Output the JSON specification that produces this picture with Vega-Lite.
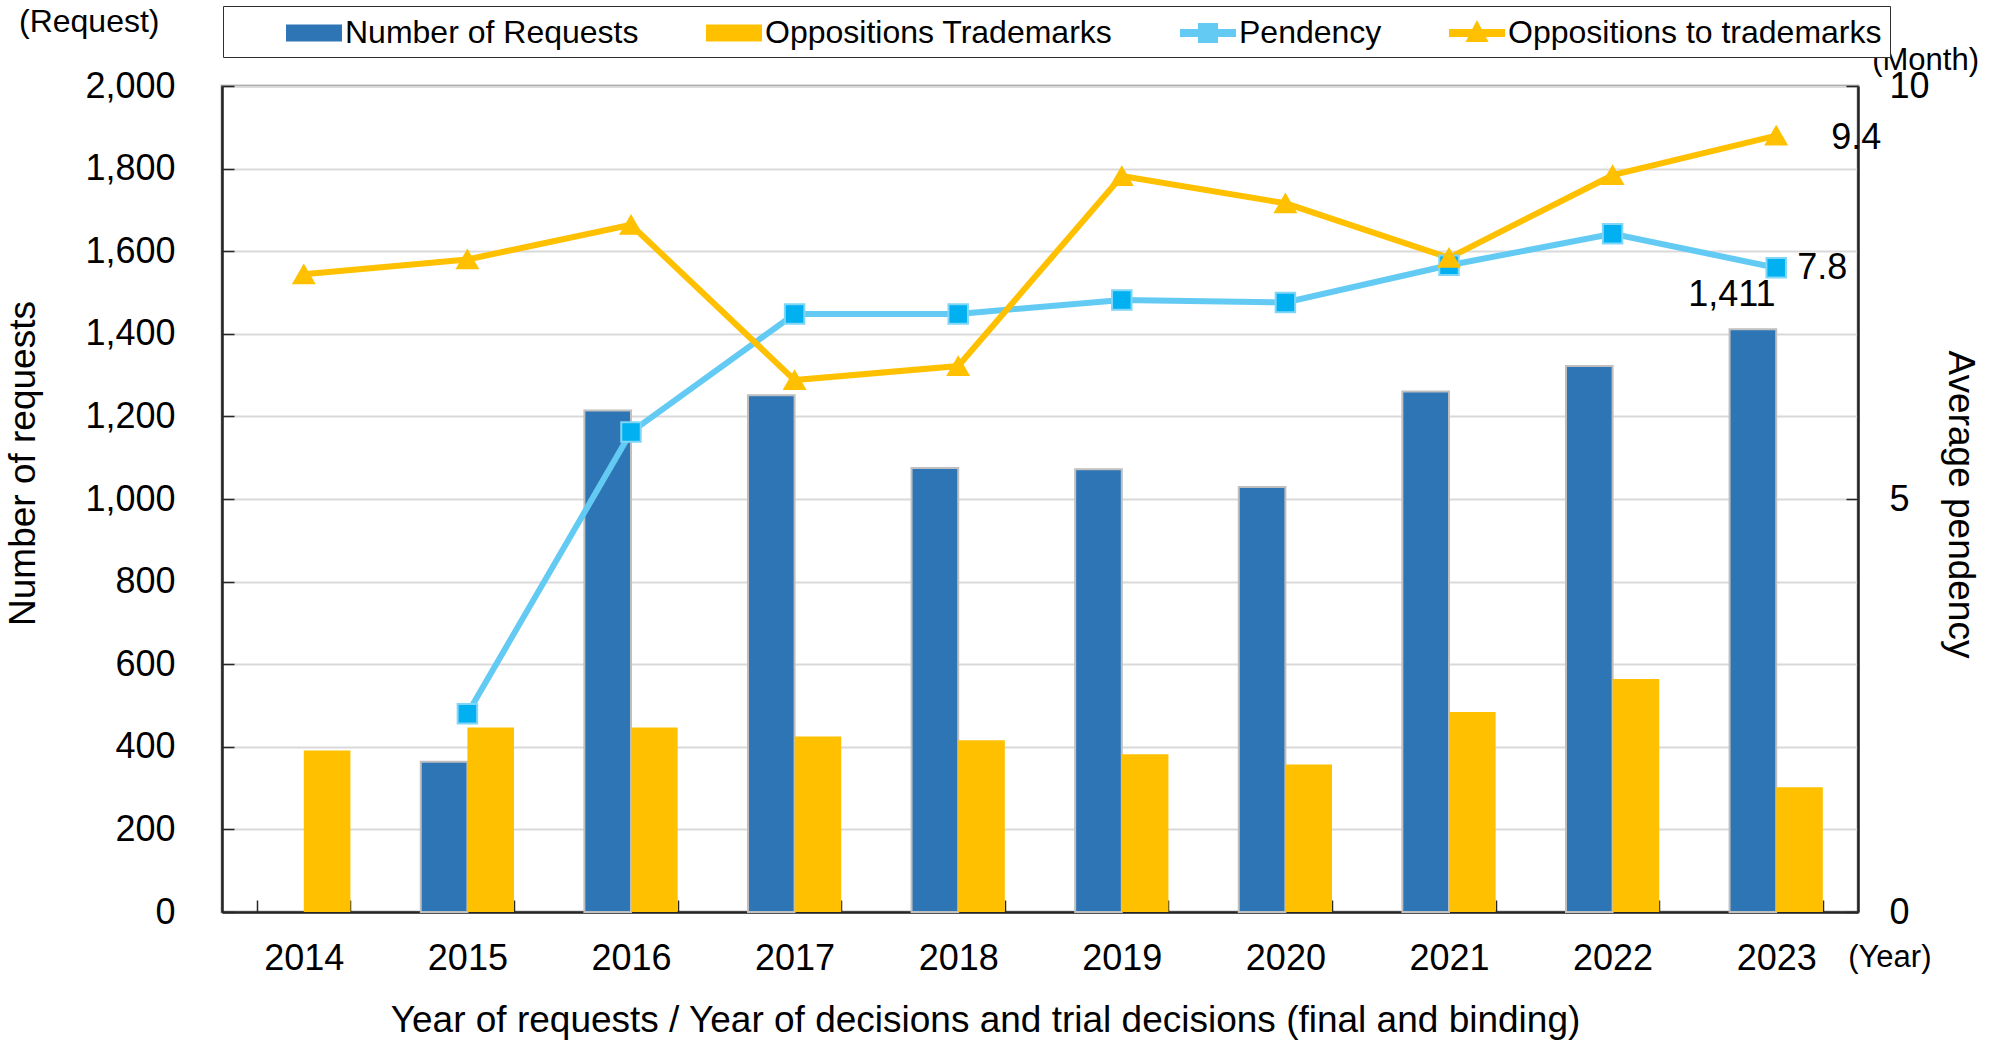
{
  "$schema": "https://vega.github.io/schema/vega-lite/v6.json",
  "autosize": {"type": "none"},
  "padding": {"left": 222, "top": 86, "right": 137, "bottom": 129},
  "width": 1636,
  "height": 826,
  "background": "white",
  "title": {"text": "(Request)", "anchor": "start", "frame": "group", "dx": -203, "offset": 50, "dy": 98, "baseline": "middle", "fontSize": 32, "font": "Liberation Sans", "fontWeight": "normal", "color": "black"},
  "config": {
    "font": "Liberation Sans",
    "view": {"stroke": "#7F7F7F", "strokeWidth": 2.5},
    "axis": {"labelFont": "Liberation Sans", "titleFont": "Liberation Sans", "labelColor": "black", "titleColor": "black", "titleFontWeight": "normal", "domainColor": "#262626", "domainWidth": 2.5, "tickColor": "#262626", "tickWidth": 1.5},
    "text": {"font": "Liberation Sans", "color": "black"}
  },
  "data": {
    "values": [
      {"year": "2015", "series": "Number of Requests", "value": 364},
      {"year": "2016", "series": "Number of Requests", "value": 1214},
      {"year": "2017", "series": "Number of Requests", "value": 1251},
      {"year": "2018", "series": "Number of Requests", "value": 1075},
      {"year": "2019", "series": "Number of Requests", "value": 1072},
      {"year": "2020", "series": "Number of Requests", "value": 1029},
      {"year": "2021", "series": "Number of Requests", "value": 1260},
      {"year": "2022", "series": "Number of Requests", "value": 1322},
      {"year": "2023", "series": "Number of Requests", "value": 1411},
      {"year": "2014", "series": "Oppositions Trademarks", "value": 391},
      {"year": "2015", "series": "Oppositions Trademarks", "value": 447},
      {"year": "2016", "series": "Oppositions Trademarks", "value": 447},
      {"year": "2017", "series": "Oppositions Trademarks", "value": 425},
      {"year": "2018", "series": "Oppositions Trademarks", "value": 416},
      {"year": "2019", "series": "Oppositions Trademarks", "value": 382},
      {"year": "2020", "series": "Oppositions Trademarks", "value": 357},
      {"year": "2021", "series": "Oppositions Trademarks", "value": 484},
      {"year": "2022", "series": "Oppositions Trademarks", "value": 564},
      {"year": "2023", "series": "Oppositions Trademarks", "value": 302},
      {"year": "2015", "series": "Pendency", "value": 2.4},
      {"year": "2016", "series": "Pendency", "value": 5.81},
      {"year": "2017", "series": "Pendency", "value": 7.24},
      {"year": "2018", "series": "Pendency", "value": 7.24},
      {"year": "2019", "series": "Pendency", "value": 7.41},
      {"year": "2020", "series": "Pendency", "value": 7.38},
      {"year": "2021", "series": "Pendency", "value": 7.83},
      {"year": "2022", "series": "Pendency", "value": 8.21},
      {"year": "2023", "series": "Pendency", "value": 7.8},
      {"year": "2014", "series": "Oppositions to trademarks", "value": 7.72},
      {"year": "2015", "series": "Oppositions to trademarks", "value": 7.9},
      {"year": "2016", "series": "Oppositions to trademarks", "value": 8.32},
      {"year": "2017", "series": "Oppositions to trademarks", "value": 6.44},
      {"year": "2018", "series": "Oppositions to trademarks", "value": 6.61},
      {"year": "2019", "series": "Oppositions to trademarks", "value": 8.91},
      {"year": "2020", "series": "Oppositions to trademarks", "value": 8.58},
      {"year": "2021", "series": "Oppositions to trademarks", "value": 7.92},
      {"year": "2022", "series": "Oppositions to trademarks", "value": 8.92},
      {"year": "2023", "series": "Oppositions to trademarks", "value": 9.4}
    ]
  },
  "resolve": {"scale": {"y": "independent"}},
  "layer": [
    {
      "transform": [{"filter": {"field": "series", "oneOf": ["Number of Requests", "Oppositions Trademarks"]}}],
      "encoding": {
        "x": {
          "field": "year", "type": "nominal",
          "scale": {"paddingInner": 0.43, "paddingOuter": 0.215},
          "axis": {
            "labelAngle": 0, "labelFontSize": 36, "labelPadding": 41, "tickBand": "extent", "tickSize": -12,
            "title": "Year of requests / Year of decisions and trial decisions (final and binding)",
            "titleFontSize": 37, "titleX": 763, "titleY": 108, "titleAlign": "center", "titleBaseline": "middle"
          }
        },
        "y": {
          "field": "value", "type": "quantitative",
          "scale": {"domain": [0, 2000]},
          "axis": {
            "values": [0, 200, 400, 600, 800, 1000, 1200, 1400, 1600, 1800, 2000], "format": ",d",
            "labelFontSize": 36, "labelPadding": 59, "tickSize": -12,
            "grid": true, "gridColor": "#D9D9D9", "gridWidth": 2,
            "title": "Number of requests", "titleFontSize": 37, "titlePadding": 42, "titleY": 377, "titleAlign": "center"
          }
        }
      },
      "layer": [
        {
          "mark": {"type": "bar", "strokeWidth": 2},
          "encoding": {
            "xOffset": {"field": "series", "scale": {"domain": ["Number of Requests", "Oppositions Trademarks"]}},
            "color": {
              "field": "series", "type": "nominal",
              "scale": {"domain": ["Number of Requests", "Oppositions Trademarks", "Pendency", "Oppositions to trademarks"], "range": ["#2E75B6", "#FFC000", "#63CBF3", "#FFC000"]},
              "legend": {
                "orient": "none", "legendX": 1, "legendY": -80, "direction": "horizontal", "title": null,
                "labelFont": "Liberation Sans", "labelFontSize": 32, "labelColor": "black", "labelLimit": 0,
                "symbolSize": 1296, "labelOffset": 12, "symbolOffset": 64, "columnPadding": 12, "padding": 8,
                "strokeColor": "#303030", "fillColor": "white",
                "encode": {
                  "symbols": {"update": {
                    "shape": {"signal": "datum.value === 'Pendency' ? 'M-1.5,-0.17H1.5V0.17H-1.5Z M-0.5,-0.5H0.5V0.5H-0.5Z' : datum.value === 'Oppositions to trademarks' ? 'M-1.5,-0.17H1.5V0.17H-1.5Z M0,-0.6L0.55,0.45L-0.55,0.45Z' : 'M-1.5,-0.42H1.5V0.42H-1.5Z'"},
                    "fill": {"signal": "datum.value === 'Number of Requests' ? '#2E75B6' : datum.value === 'Pendency' ? '#00B0F0' : '#FFC000'"},
                    "stroke": {"signal": "datum.value === 'Number of Requests' ? '#A6A6A6' : datum.value === 'Pendency' ? '#63CBF3' : '#FFC000'"},
                    "strokeWidth": {"value": 2},
                    "opacity": {"value": 1},
                    "fillOpacity": {"value": 1}
                  }}
                }
              }
            },
            "stroke": {"condition": {"test": "datum.series === 'Number of Requests'", "value": "#BFBFBF"}, "value": null}
          }
        },
        {
          "transform": [{"filter": "datum.series === 'Number of Requests' && datum.year === '2023'"}],
          "mark": {"type": "text", "dx": -21, "dy": -34, "baseline": "middle", "align": "center", "fontSize": 36},
          "encoding": {
            "xOffset": {"field": "series", "scale": {"domain": ["Number of Requests", "Oppositions Trademarks"]}},
            "text": {"field": "value", "type": "quantitative", "format": ",.0f"}
          }
        },
        {
          "transform": [{"filter": "datum.series === 'Number of Requests' && datum.year === '2023'"}],
          "mark": {"type": "text", "text": "(Year)", "dx": 72, "dy": 46, "baseline": "middle", "align": "left", "fontSize": 31},
          "encoding": {"x": {"datum": "2023"}, "y": {"datum": 0}}
        }
      ]
    },
    {
      "transform": [{"filter": {"field": "series", "oneOf": ["Pendency", "Oppositions to trademarks"]}}],
      "encoding": {
        "x": {"field": "year", "type": "nominal"},
        "y": {
          "field": "value", "type": "quantitative",
          "scale": {"domain": [0, 10]},
          "axis": {
            "orient": "right", "values": [0, 5, 10], "labelFontSize": 36, "labelPadding": 43, "tickSize": -12, "grid": false,
            "title": "Average pendency", "titleFontSize": 37, "titleX": 101, "titleY": 418, "titleAngle": 90, "titleAlign": "center", "titleBaseline": "middle"
          }
        }
      },
      "layer": [
        {
          "mark": {"type": "line", "strokeWidth": 6},
          "encoding": {
            "color": {
              "field": "series", "type": "nominal",
              "scale": {"domain": ["Number of Requests", "Oppositions Trademarks", "Pendency", "Oppositions to trademarks"], "range": ["#2E75B6", "#FFC000", "#63CBF3", "#FFC000"]},
              "legend": {
                "orient": "none", "legendX": 1, "legendY": -80, "direction": "horizontal", "title": null,
                "labelFont": "Liberation Sans", "labelFontSize": 32, "labelColor": "black", "labelLimit": 0,
                "symbolSize": 1296, "labelOffset": 12, "symbolOffset": 64, "columnPadding": 12, "padding": 8,
                "strokeColor": "#303030", "fillColor": "white",
                "encode": {
                  "symbols": {"update": {
                    "shape": {"signal": "datum.value === 'Pendency' ? 'M-1.5,-0.17H1.5V0.17H-1.5Z M-0.5,-0.5H0.5V0.5H-0.5Z' : datum.value === 'Oppositions to trademarks' ? 'M-1.5,-0.17H1.5V0.17H-1.5Z M0,-0.6L0.55,0.45L-0.55,0.45Z' : 'M-1.5,-0.42H1.5V0.42H-1.5Z'"},
                    "fill": {"signal": "datum.value === 'Number of Requests' ? '#2E75B6' : datum.value === 'Pendency' ? '#00B0F0' : '#FFC000'"},
                    "stroke": {"signal": "datum.value === 'Number of Requests' ? '#A6A6A6' : datum.value === 'Pendency' ? '#63CBF3' : '#FFC000'"},
                    "strokeWidth": {"value": 2},
                    "opacity": {"value": 1},
                    "fillOpacity": {"value": 1}
                  }}
                }
              }
            }
          }
        },
        {
          "mark": {"type": "point", "filled": true, "opacity": 1, "strokeWidth": 2},
          "encoding": {
            "shape": {"field": "series", "type": "nominal", "scale": {"domain": ["Pendency", "Oppositions to trademarks"], "range": ["square", "triangle-up"]}, "legend": null},
            "fill": {"condition": {"test": "datum.series === 'Pendency'", "value": "#00B0F0"}, "value": "#FFC000"},
            "stroke": {"condition": {"test": "datum.series === 'Pendency'", "value": "#7FD6F7"}, "value": "#FFC000"},
            "size": {"condition": {"test": "datum.series === 'Pendency'", "value": 380}, "value": 420}
          }
        },
        {
          "transform": [{"filter": "datum.year === '2023' && datum.series === 'Pendency'"}],
          "mark": {"type": "text", "baseline": "middle", "align": "left", "fontSize": 36, "dx": 21},
          "encoding": {"text": {"field": "value", "type": "quantitative", "format": ".1f"}}
        },
        {
          "transform": [{"filter": "datum.year === '2023' && datum.series === 'Oppositions to trademarks'"}],
          "mark": {"type": "text", "baseline": "middle", "align": "left", "fontSize": 36, "dx": 55, "dy": 2},
          "encoding": {"text": {"field": "value", "type": "quantitative", "format": ".1f"}}
        },
        {
          "transform": [{"filter": "datum.year === '2023' && datum.series === 'Pendency'"}],
          "mark": {"type": "text", "text": "(Month)", "dx": 96, "dy": -25, "baseline": "middle", "align": "left", "fontSize": 31},
          "encoding": {"x": {"datum": "2023"}, "y": {"datum": 10}}
        }
      ]
    }
  ]
}
